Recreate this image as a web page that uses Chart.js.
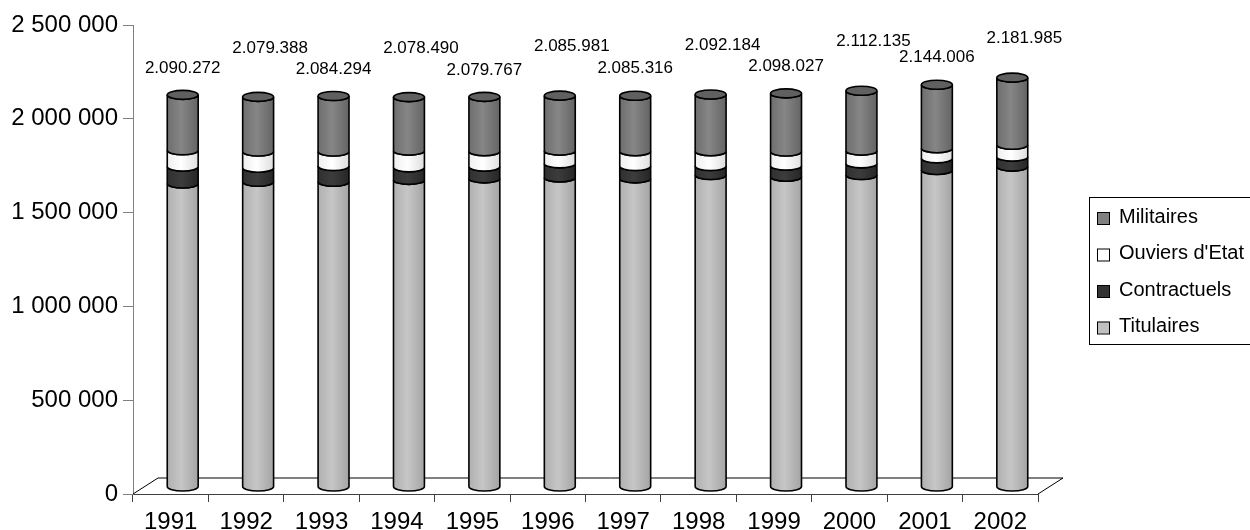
<!DOCTYPE html>
<html>
<head>
<meta charset="utf-8">
<script src="https://cdn.jsdelivr.net/npm/chart.js@4.4.1/dist/chart.umd.min.js"></script>
<style>
  html, body { margin: 0; padding: 0; background: #fff; }
  #cadre { width: 1250px; height: 530px; }
</style>
</head>
<body>
<div id="cadre"><canvas id="effectifs"></canvas></div>
<script>
var annees = ['1991', '1992', '1993', '1994', '1995', '1996', '1997', '1998', '1999', '2000', '2001', '2002']
var titulaires   = [1618000, 1627000, 1627000, 1637000, 1645000, 1650000, 1645000, 1663000, 1654000, 1663000, 1690000, 1708000]
var contractuels = [90000, 75000, 84000, 67000, 63000, 75000, 66000, 48000, 59000, 62000, 62000, 53000]
var ouvriers     = [87000, 86000, 77000, 89000, 82000, 68000, 79000, 79000, 75000, 68000, 54000, 63000]
var militaires   = [295272, 291388, 296294, 285490, 289767, 292981, 295316, 302184, 310027, 319135, 338006, 357985]
var totaux       = ['2.090.272', '2.079.388', '2.084.294', '2.078.490', '2.079.767', '2.085.981',
                    '2.085.316', '2.092.184', '2.098.027', '2.112.135', '2.144.006', '2.181.985']

// decalage 3D (colonnes au milieu du sol, sol en profondeur)
var decalX = 12, decalY = -7, profX = 25, profY = -16, rayonY = 4.5

Chart.defaults.font.family = "'Liberation Sans', Arial, sans-serif"
Chart.defaults.color = '#000'

function espaces(v) {
    return String(v).replace(/\B(?=(\d{3})+(?!\d))/g, ' ')
}

function degrade(ctx, x0, x1, t) {
    var g = ctx.createLinearGradient(x0, 0, x1, 0)
    g.addColorStop(0, t[0])
    g.addColorStop(0.45, t[1])
    g.addColorStop(1, t[2])
    return g
}

var cylindres = {
    id: 'cylindres',
    beforeDatasetsDraw: function(chart) {
        var ctx = chart.ctx, area = chart.chartArea
        ctx.save()
        // le sol
        ctx.strokeStyle = '#000'
        ctx.lineWidth = 1
        ctx.beginPath()
        ctx.moveTo(area.left, area.bottom)
        ctx.lineTo(area.left + profX, area.bottom + profY)
        ctx.lineTo(area.right + profX, area.bottom + profY)
        ctx.lineTo(area.right, area.bottom)
        ctx.stroke()

        var n = chart.data.datasets.length
        chart.data.datasets.forEach(function(ds, i) {
            chart.getDatasetMeta(i).data.forEach(function(bar) {
                var p = bar.getProps(['x', 'y', 'base', 'width'], true)
                var cx = p.x + decalX, r = p.width / 2
                var haut = p.y + decalY, bas = p.base + decalY
                ctx.beginPath()
                ctx.ellipse(cx, haut, r, rayonY, 0, Math.PI, 0, true)
                ctx.lineTo(cx + r, bas)
                ctx.ellipse(cx, bas, r, rayonY, 0, 0, Math.PI, false)
                ctx.closePath()
                ctx.fillStyle = degrade(ctx, cx - r, cx + r, ds.teintes)
                ctx.fill()
                ctx.lineWidth = 1.6
                ctx.strokeStyle = '#000'
                ctx.stroke()
                if (i == n - 1) {
                    ctx.beginPath()
                    ctx.ellipse(cx, haut, r, rayonY, 0, 0, Math.PI * 2)
                    ctx.fillStyle = '#606060'
                    ctx.fill()
                    ctx.stroke()
                }
            })
        })
        ctx.restore()
        return false
    },
    afterDraw: function(chart) {
        var ctx = chart.ctx
        var n = chart.data.datasets.length
        ctx.save()
        // totaux au-dessus des colonnes
        ctx.font = "17px 'Liberation Sans', Arial, sans-serif"
        ctx.fillStyle = '#000'
        ctx.textAlign = 'center'
        ctx.textBaseline = 'middle'
        chart.getDatasetMeta(n - 1).data.forEach(function(bar, k) {
            var haut = bar.y + decalY
            if (k % 2 == 0) {
                ctx.fillText(totaux[k], bar.x + decalX, haut - 27)
            } else {
                ctx.fillText(totaux[k], bar.x + decalX + 12, Math.max(38, haut - 49))
            }
        })

        // legende (coupee par le bord droit comme l'original)
        var lx = 1089, ly = 197
        ctx.strokeStyle = '#000'
        ctx.lineWidth = 1
        ctx.strokeRect(lx + 0.5, ly + 0.5, 260, 147)
        ctx.font = "20px 'Liberation Sans', Arial, sans-serif"
        ctx.textAlign = 'left'
        for (var j = 0; j < n; j++) {
            var ds = chart.data.datasets[n - 1 - j]
            var yy = ly + 20 + j * 36.5
            ctx.fillStyle = ds.backgroundColor
            ctx.fillRect(lx + 8, yy - 5, 12, 12)
            ctx.strokeRect(lx + 8.5, yy - 4.5, 12, 12)
            ctx.fillStyle = '#000'
            ctx.fillText(ds.label, lx + 30, yy)
        }
        ctx.restore()
    }
}

var ctx = document.getElementById('effectifs')
var graphe = new Chart(ctx, {
    type: 'bar',
    data: {
        labels: annees,
        datasets: [
            { label: 'Titulaires', data: titulaires, backgroundColor: '#c0c0c0', teintes: ['#b0b0b0', '#c6c6c6', '#a4a4a4'] },
            { label: 'Contractuels', data: contractuels, backgroundColor: '#333333', teintes: ['#303030', '#3c3c3c', '#262626'] },
            { label: "Ouviers d'Etat", data: ouvriers, backgroundColor: '#ffffff', teintes: ['#eeeeee', '#ffffff', '#dedede'] },
            { label: 'Militaires', data: militaires, backgroundColor: '#808080', teintes: ['#6e6e6e', '#868686', '#646464'] }
        ]
    },
    options: {
        responsive: true,
        maintainAspectRatio: false,
        animation: false,
        layout: { padding: { left: 12, right: 212, top: 25, bottom: 0 } },
        plugins: {
            legend: { display: false },
            tooltip: { enabled: false }
        },
        datasets: {
            bar: { categoryPercentage: 1, barPercentage: 0.41 }
        },
        scales: {
            x: {
                stacked: true,
                afterFit: function(scale) { scale.height = 36 },
                grid: { drawOnChartArea: false, drawTicks: true, tickLength: 8, color: '#404040' },
                border: { display: true, color: '#404040' },
                ticks: { font: { size: 24 }, padding: 6, maxRotation: 0 }
            },
            y: {
                stacked: true,
                min: 0,
                max: 2500000,
                afterFit: function(scale) { scale.width = 121 },
                grid: { drawOnChartArea: false, drawTicks: true, tickLength: 10, color: '#808080' },
                border: { display: true, color: '#808080' },
                ticks: {
                    stepSize: 500000,
                    padding: 5,
                    font: { size: 24 },
                    callback: function(value) { return espaces(value) }
                }
            }
        }
    },
    plugins: [cylindres]
})
</script>
</body>
</html>
